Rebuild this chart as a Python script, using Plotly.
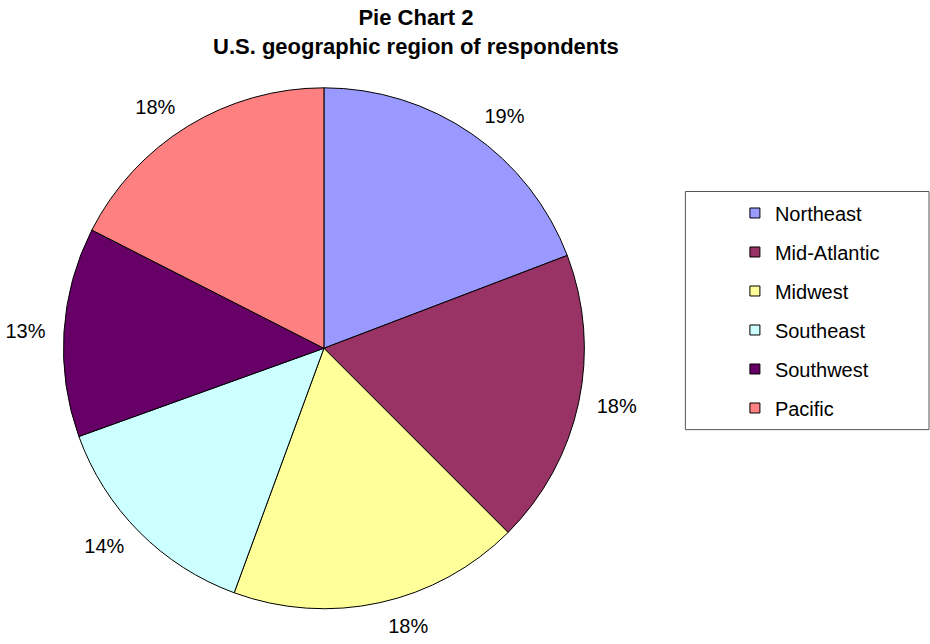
import plotly.graph_objects as go

regions = ["Northeast", "Mid-Atlantic", "Midwest", "Southeast", "Southwest", "Pacific"]
shares = [19.2, 18.3, 18.1, 13.9, 13.0, 17.5]
colors = ["#9999FF", "#993366", "#FFFF99", "#CCFFFF", "#660066", "#FF8080"]
title_lines = ["Pie Chart 2", "U.S. geographic region of respondents"]

W, H = 930, 644
FONT = "Liberation Sans, Arial, sans-serif"
CX, CY, R = 318, 351, 263
RL = R + 13  # radius of the (invisible) label ring

fig = go.Figure()
# visible pie
fig.add_trace(go.Pie(
    labels=regions, values=shares, sort=False, direction="clockwise", rotation=0,
    marker=dict(colors=colors, line=dict(color="black", width=1)),
    textinfo="none", showlegend=False, hoverinfo="label+percent",
    domain=dict(x=[(CX - R) / W, (CX + R) / W], y=[1 - (CY + R) / H, 1 - (CY - R) / H]),
))
# transparent ring of the same data, only to place the percentage labels a bit further out
fig.add_trace(go.Pie(
    labels=regions, values=shares, sort=False, direction="clockwise", rotation=0,
    marker=dict(colors=["rgba(0,0,0,0)"] * len(regions), line=dict(width=0)),
    textposition="outside", texttemplate="%{percent:.0%}",
    textfont=dict(family=FONT, size=20, color="black"),
    showlegend=False, hoverinfo="skip",
    domain=dict(x=[(CX - RL) / W, (CX + RL) / W], y=[1 - (CY + RL) / H, 1 - (CY - RL) / H]),
))

for name, col in zip(regions, colors):
    fig.add_trace(go.Scatter(
        x=[None], y=[None], mode="markers", name=name, legendgroup=name,
        marker=dict(symbol="square", size=10, color=col, line=dict(color="black", width=1)),
        showlegend=True, hoverinfo="skip",
    ))

fig.add_shape(type="rect", xref="paper", yref="paper",
              x0=683 / W, x1=929 / W, y0=1 - 433 / H, y1=1 - 193 / H,
              line=dict(color="#555555", width=1), fillcolor="rgba(0,0,0,0)")

fig.add_annotation(text="<br>".join(title_lines), xref="paper", yref="paper",
                   x=411 / W, y=1 - 3 / H, xanchor="center", yanchor="top", showarrow=False,
                   font=dict(family=FONT, size=22, color="black", weight="bold"))

fig.update_layout(
    width=W, height=H,
    margin=dict(l=0, r=0, t=0, b=0),
    paper_bgcolor="white", plot_bgcolor="white",
    xaxis=dict(visible=False), yaxis=dict(visible=False),
    legend=dict(x=733 / W, y=1 - 195 / H, xanchor="left", yanchor="top",
                font=dict(family=FONT, size=20, color="black"),
                tracegroupgap=10, itemwidth=30, bgcolor="rgba(0,0,0,0)"),
)

fig.write_html("out.html", config={"displayModeBar": False},
               post_script="document.body.style.margin='0';document.body.style.padding='0';")
